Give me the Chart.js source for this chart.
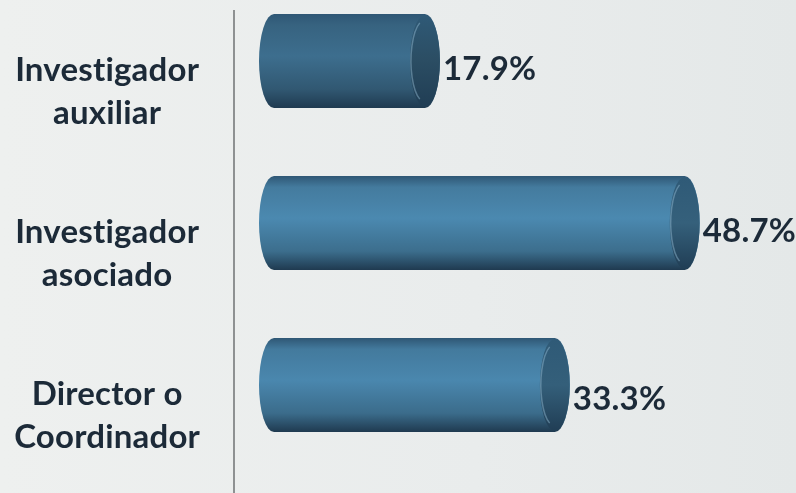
<!DOCTYPE html>
<html>
<head>
<meta charset="utf-8">
<script src="https://cdn.jsdelivr.net/npm/chart.js@4.4.1/dist/chart.umd.min.js"></script>
<style>
  html, body { margin: 0; padding: 0; }
  body { width: 796px; height: 493px; background: linear-gradient(90deg, #eef0ef 0%, #e9ecec 60%, #e4e8e8 100%); }
  #wrap { position: relative; width: 796px; height: 493px; }
</style>
</head>
<body>
<div id="wrap"><canvas id="barChart"></canvas></div>
<script>
    // data
    var categories = [["Investigador", "auxiliar"], ["Investigador", "asociado"], ["Director o", "Coordinador"]];
    var percents = [17.9, 48.7, 33.3];
    var bodyColors = ["#3d6e8e", "#4b89b0", "#4a87ae"];

    var textColor = "#1c2a38";
    var fontFamily = "Lato, 'Noto Sans', sans-serif";

    // draws each bar as a cylinder using the bar element geometry
    var cylinders = {
        id: 'cylinders',
        beforeDraw: function (chart) {
            // no "ti" ligature
            chart.ctx.letterSpacing = '0.2px';
        },
        beforeDatasetsDraw: function (chart) {
            var ctx = chart.ctx;
            var x = chart.chartArea.left - 40;
            ctx.save();
            ctx.strokeStyle = '#8e9192';
            ctx.lineWidth = 2;
            ctx.beginPath();
            ctx.moveTo(x, 10);
            ctx.lineTo(x, chart.height);
            ctx.stroke();
            ctx.restore();
        },
        afterDatasetsDraw: function (chart) {
            var ctx = chart.ctx;
            var meta = chart.getDatasetMeta(0);
            meta.data.forEach(function (bar, i) {
                var end = bar.x, base = bar.base, cy = bar.y;
                var h = bar.height, top = cy - h / 2, bot = cy + h / 2;
                var rx = 15, ry = h / 2;
                var c = bodyColors[i];

                ctx.save();
                var g = ctx.createLinearGradient(0, top, 0, bot);
                g.addColorStop(0, '#2f5775');
                g.addColorStop(0.12, shade(c, -0.1));
                g.addColorStop(0.45, c);
                g.addColorStop(0.8, shade(c, -0.2));
                g.addColorStop(1, '#1f3a50');
                ctx.fillStyle = g;
                ctx.beginPath();
                ctx.moveTo(base, top);
                ctx.lineTo(end, top);
                ctx.ellipse(end, cy, rx, ry, 0, -Math.PI / 2, Math.PI / 2, false);
                ctx.lineTo(base, bot);
                ctx.ellipse(base, cy, rx, ry, 0, Math.PI / 2, Math.PI * 1.5, false);
                ctx.closePath();
                ctx.fill();

                // cap
                var cg = ctx.createLinearGradient(0, top, 0, bot);
                cg.addColorStop(0, '#2f5a77');
                cg.addColorStop(0.5, shade(c, -0.3));
                cg.addColorStop(1, '#203d54');
                ctx.fillStyle = cg;
                ctx.beginPath();
                ctx.ellipse(end, cy, rx, ry - 1, 0, 0, Math.PI * 2);
                ctx.fill();
                ctx.strokeStyle = 'rgba(150,190,215,0.45)';
                ctx.lineWidth = 1.5;
                ctx.beginPath();
                ctx.ellipse(end, cy, rx - 1, ry - 6, 0, Math.PI * 0.62, Math.PI * 1.38);
                ctx.stroke();

                // value label
                ctx.fillStyle = textColor;
                ctx.font = "bold 33px " + fontFamily;
                ctx.textAlign = 'left';
                ctx.textBaseline = 'middle';
                ctx.fillText(percents[i].toFixed(1) + '%', end + rx + 3, cy + (i === 2 ? 14 : 8));
                ctx.restore();
            });
        }
    };

    function shade(hex, amt) {
        var n = parseInt(hex.slice(1), 16);
        var r = n >> 16, g = (n >> 8) & 255, b = n & 255;
        function f(v) { return Math.round(amt < 0 ? v * (1 + amt) : v + (255 - v) * amt); }
        return 'rgb(' + f(r) + ',' + f(g) + ',' + f(b) + ')';
    }

    var ctxB = document.getElementById("barChart").getContext('2d');
    var myBarChart = new Chart(ctxB, {
        type: 'bar',
        data: {
            labels: categories,
            datasets: [{
                data: percents,
                backgroundColor: 'rgba(0,0,0,0)',
                borderWidth: 0,
                barThickness: 94
            }]
        },
        options: {
            indexAxis: 'y',
            responsive: true,
            maintainAspectRatio: false,
            animation: false,
            layout: { padding: { top: 61, bottom: 108, left: 0, right: 16 } },
            plugins: { legend: { display: false }, tooltip: { enabled: false } },
            scales: {
                x: { display: false, min: 0, max: 60 },
                y: {
                    offset: false,
                    grid: { display: false, drawTicks: false },
                    border: { display: false },
                    afterFit: function (s) { s.width = 274; s.paddingTop = 0; s.paddingBottom = 0; },
                    ticks: {
                        color: textColor,
                        crossAlign: 'center',
                        padding: 75,
                        labelOffset: 31,
                        font: { family: fontFamily, size: 33, weight: 'bold', lineHeight: 1.3 }
                    }
                }
            }
        },
        plugins: [cylinders]
    });
</script>
</body>
</html>
